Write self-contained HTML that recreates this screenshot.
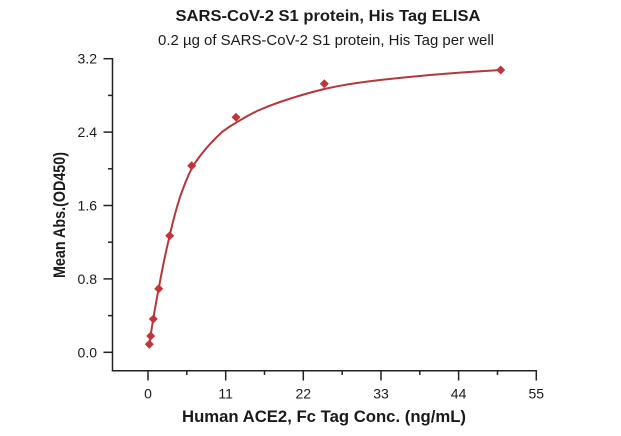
<!DOCTYPE html>
<html>
<head>
<meta charset="utf-8">
<style>
  html, body { margin:0; padding:0; background:#ffffff; }
  svg { display:block; }
  text { font-family: "Liberation Sans", "DejaVu Sans", sans-serif; fill:#1a1a1a; }
</style>
</head>
<body>
<svg width="621" height="436" viewBox="0 0 621 436" xmlns="http://www.w3.org/2000/svg">
  <rect width="621" height="436" fill="#ffffff"/>

  <!-- Titles -->
  <text x="328" y="21" text-anchor="middle" font-size="16" font-weight="bold" textLength="305" lengthAdjust="spacingAndGlyphs">SARS-CoV-2 S1 protein, His Tag ELISA</text>
  <text x="326" y="45" text-anchor="middle" font-size="15" textLength="336" lengthAdjust="spacingAndGlyphs">0.2 µg of SARS-CoV-2 S1 protein, His Tag per well</text>

  <!-- Axes -->
  <g stroke="#222" stroke-width="1.5" fill="none">
    <line x1="112.5" y1="58" x2="112.5" y2="371.4"/>
    <line x1="111.8" y1="370.7" x2="537" y2="370.7"/>
    <!-- y major ticks -->
    <line x1="103.5" y1="352.3" x2="112.5" y2="352.3"/>
    <line x1="103.5" y1="278.9" x2="112.5" y2="278.9"/>
    <line x1="103.5" y1="205.5" x2="112.5" y2="205.5"/>
    <line x1="103.5" y1="132.1" x2="112.5" y2="132.1"/>
    <line x1="103.5" y1="58.7" x2="112.5" y2="58.7"/>
    <!-- y minor ticks -->
    <line x1="108" y1="315.6" x2="112.5" y2="315.6"/>
    <line x1="108" y1="242.2" x2="112.5" y2="242.2"/>
    <line x1="108" y1="168.8" x2="112.5" y2="168.8"/>
    <line x1="108" y1="95.4" x2="112.5" y2="95.4"/>
    <!-- x major ticks -->
    <line x1="148" y1="370.7" x2="148" y2="380.5"/>
    <line x1="225.7" y1="370.7" x2="225.7" y2="380.5"/>
    <line x1="303.3" y1="370.7" x2="303.3" y2="380.5"/>
    <line x1="381" y1="370.7" x2="381" y2="380.5"/>
    <line x1="458.6" y1="370.7" x2="458.6" y2="380.5"/>
    <line x1="536.3" y1="370.7" x2="536.3" y2="380.5"/>
    <!-- x minor ticks -->
    <line x1="186.8" y1="370.7" x2="186.8" y2="375"/>
    <line x1="264.5" y1="370.7" x2="264.5" y2="375"/>
    <line x1="342.2" y1="370.7" x2="342.2" y2="375"/>
    <line x1="419.8" y1="370.7" x2="419.8" y2="375"/>
    <line x1="497.5" y1="370.7" x2="497.5" y2="375"/>
  </g>

  <!-- y tick labels -->
  <g font-size="14" text-anchor="end">
    <text x="97" y="357.3">0.0</text>
    <text x="97" y="283.9">0.8</text>
    <text x="97" y="210.5">1.6</text>
    <text x="97" y="137.1">2.4</text>
    <text x="97" y="63.7">3.2</text>
  </g>

  <!-- x tick labels -->
  <g font-size="14" text-anchor="middle">
    <text x="148" y="398.5">0</text>
    <text x="225.7" y="398.5">11</text>
    <text x="303.3" y="398.5">22</text>
    <text x="381" y="398.5">33</text>
    <text x="458.6" y="398.5">44</text>
    <text x="536.3" y="398.5">55</text>
  </g>

  <!-- Axis titles -->
  <text x="324" y="422" text-anchor="middle" font-size="17" font-weight="bold" textLength="284" lengthAdjust="spacingAndGlyphs">Human ACE2, Fc Tag Conc. (ng/mL)</text>
  <text transform="translate(65,215) rotate(-90)" x="0" y="0" text-anchor="middle" font-size="17" font-weight="bold" textLength="126" lengthAdjust="spacingAndGlyphs">Mean Abs.(OD450)</text>

  <!-- Fitted curve -->
  <polyline fill="none" stroke="#b5373a" stroke-width="2" stroke-linejoin="round" stroke-linecap="round"
    points="149.3,345 150.2,339 151,333 152.1,326 153.3,319 154.6,311 156,303 157.3,295.8 158.7,288.7 161.3,274.6 164,261 166.8,248 169.7,235.5 172.3,224.4 175,214 177.5,205.2 180,197 183,188.8 186,181 188.8,174.5 191.7,168.5 195.7,162 200,156 205,149.8 210,144 216,137.8 222,132 229,127 236,122.7 246.5,116.5 257,111 268.5,106.2 280,102 291,98.3 302,95 313,91.9 324.3,89 337,86.3 350,84 365,81.9 380,80 405,77.4 430,75 447,73.6 465,72.3 483,71.1 500.7,70"/>

  <!-- Data markers -->
  <g fill="#c0353a">
    <path d="M149.3,339.8 L153.8,344.3 L149.3,348.8 L144.8,344.3 Z"/>
    <path d="M150.7,331.5 L155.2,336 L150.7,340.5 L146.2,336 Z"/>
    <path d="M153.3,314.5 L157.8,319 L153.3,323.5 L148.8,319 Z"/>
    <path d="M158.7,284.2 L163.2,288.7 L158.7,293.2 L154.2,288.7 Z"/>
    <path d="M169.7,231.2 L174.2,235.7 L169.7,240.2 L165.2,235.7 Z"/>
    <path d="M191.7,161.2 L196.2,165.7 L191.7,170.2 L187.2,165.7 Z"/>
    <path d="M236,112.8 L240.5,117.3 L236,121.8 L231.5,117.3 Z"/>
    <path d="M324.3,79.2 L328.8,83.7 L324.3,88.2 L319.8,83.7 Z"/>
    <path d="M500.7,65.5 L505.2,70 L500.7,74.5 L496.2,70 Z"/>
  </g>
</svg>
</body>
</html>
